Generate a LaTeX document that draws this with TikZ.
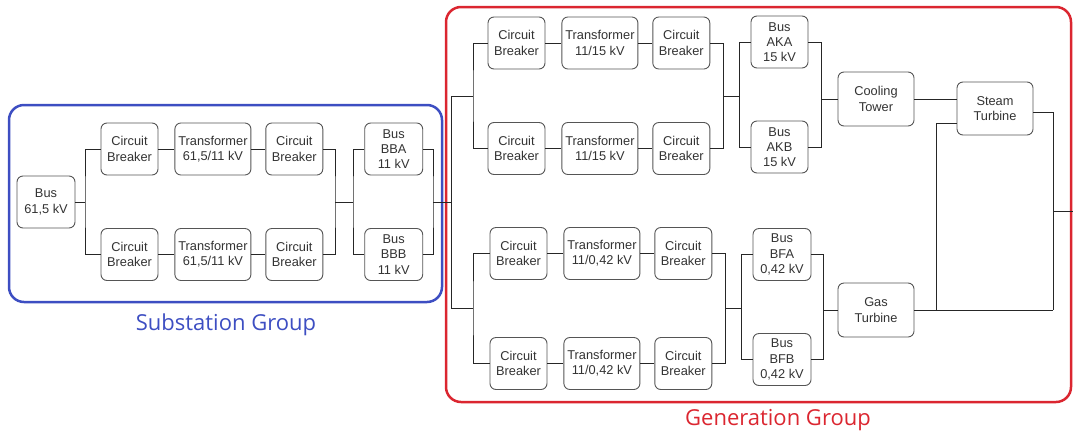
\documentclass[tikz,border=0pt]{standalone}
\usepackage{fontspec}
\setmainfont{Liberation Sans}
\newfontfamily\groupfont{Open Sans}
\usetikzlibrary{positioning, calc}
\definecolor{subblue}{HTML}{3D4EC2}
\definecolor{genred}{HTML}{DB2630}
\definecolor{boxgray}{HTML}{555555}
\definecolor{txtgray}{HTML}{333333}

\begin{document}
\begin{tikzpicture}[x=1pt, y=-1pt,
    box/.style={draw=boxgray, rounded corners=6pt, fill=white, line width=0.9pt,
                minimum height=52pt, inner sep=1pt, align=center,
                font=\fontsize{12.8}{15.3}\selectfont, text=txtgray},
    cb/.style={box, minimum width=57pt},
    tr/.style={box, minimum width=76pt},
    bus/.style={box, minimum width=58pt},
    unit/.style={box, minimum width=76pt, minimum height=54pt},
    wire/.style={draw=black!85, line width=0.8pt},
    group/.style={rounded corners=15pt, line width=2.5pt},
    grplabel/.style={font=\groupfont\fontsize{22}{26}\selectfont}
  ]
  \useasboundingbox (0,0) rectangle (1073,437);

  % group frames
  \draw[group, subblue] (9,105) rectangle (442,302);
  \draw[group, genred] (446,7) rectangle (1071,402);
  \node[grplabel, text=subblue] (sublabel) at (226,325) {Substation Group};
  \node[grplabel, text=genred] (genlabel) at (778,420) {Generation Group};

  % substation
  \node[bus] (bus615) at (46,202) {Bus\\61,5 kV};
  \node[cb] (cbA1) at (129.5,149) {Circuit\\Breaker};
  \node[tr, right=16pt of cbA1] (trA)  {Transformer\\61,5/11 kV};
  \node[cb, right=14pt of trA]  (cbA2) {Circuit\\Breaker};
  \node[bus, right=41pt of cbA2] (bba) {Bus\\BBA\\11 kV};
  \node[cb] (cbB1) at (129.5,254.5) {Circuit\\Breaker};
  \node[tr, right=16pt of cbB1] (trB)  {Transformer\\61,5/11 kV};
  \node[cb, right=14pt of trB]  (cbB2) {Circuit\\Breaker};
  \node[bus, right=41pt of cbB2] (bbb) {Bus\\BBB\\11 kV};

  % generation, 15 kV side
  \node[cb] (cbC1) at (516.5,43) {Circuit\\Breaker};
  \node[tr, right=16pt of cbC1] (trC)  {Transformer\\11/15 kV};
  \node[cb, right=14pt of trC]  (cbC2) {Circuit\\Breaker};
  \node[cb] (cbD1) at (516.5,148.5) {Circuit\\Breaker};
  \node[tr, right=16pt of cbD1] (trD)  {Transformer\\11/15 kV};
  \node[cb, right=14pt of trD]  (cbD2) {Circuit\\Breaker};
  \node[cb] (aka) at (779.5,42)  {Bus\\AKA\\15 kV};
  \node[cb] (akb) at (779.5,147) {Bus\\AKB\\15 kV};
  \node[unit] (cooling) at (876,99) {Cooling\\Tower};
  \node[unit, minimum height=53pt] (steam) at (995,108.5) {Steam\\Turbine};

  % generation, 0,42 kV side
  \node[cb] (cbE1) at (518.5,253.5) {Circuit\\Breaker};
  \node[tr, right=16pt of cbE1] (trE)  {Transformer\\11/0,42 kV};
  \node[cb, right=14pt of trE]  (cbE2) {Circuit\\Breaker};
  \node[cb] (cbF1) at (518.5,363.5) {Circuit\\Breaker};
  \node[tr, right=16pt of cbF1] (trF)  {Transformer\\11/0,42 kV};
  \node[cb, right=14pt of trF]  (cbF2) {Circuit\\Breaker};
  \node[bus] (bfa) at (782,254.5) {Bus\\BFA\\0,42 kV};
  \node[bus] (bfb) at (782,359.5) {Bus\\BFB\\0,42 kV};
  \node[unit] (gas) at (876,310) {Gas\\Turbine};

  % junctions
  \coordinate (j1) at (85,202);
  \coordinate (j2) at (335,202);
  \coordinate (j3) at (353,202);
  \coordinate (j4) at (433,202);
  \coordinate (j5) at (451,202);
  \coordinate (gtop) at (451,96);
  \coordinate (gbot) at (451,308);
  \coordinate (j6) at (473,96);
  \coordinate (j7) at (473,308);
  \coordinate (j8) at (723,96);
  \coordinate (j9) at (739,96);
  \coordinate (j10) at (821,99);
  \coordinate (j14) at (725,308);
  \coordinate (j15) at (741,308);
  \coordinate (j16) at (823,310);
  \coordinate (j11) at (936,310);
  \coordinate (j12) at (1053,310);
  \coordinate (j13) at (1053,211);
  \coordinate (out) at (1073,211);

  % substation wiring
  \draw[wire] (bus615.east) -- (j1);
  \draw[wire] (cbA1.west) -| (j1) |- (cbB1.west);
  \draw[wire] (cbA1) -- (trA) -- (cbA2);
  \draw[wire] (cbB1) -- (trB) -- (cbB2);
  \draw[wire] (cbA2.east) -| (j2) |- (cbB2.east);
  \draw[wire] (j2) -- (j3);
  \draw[wire] (bba.west) -| (j3) |- (bbb.west);
  \draw[wire] (bba.east) -| (j4) |- (bbb.east);
  \draw[wire] (j4) -- (j5);

  % generation wiring
  \draw[wire] (gtop) -- (gbot);
  \draw[wire] (gtop) -- (j6);
  \draw[wire] (gbot) -- (j7);
  \draw[wire] (cbC1.west) -| (j6) |- (cbD1.west);
  \draw[wire] (cbE1.west) -| (j7) |- (cbF1.west);
  \draw[wire] (cbC1) -- (trC) -- (cbC2);
  \draw[wire] (cbD1) -- (trD) -- (cbD2);
  \draw[wire] (cbE1) -- (trE) -- (cbE2);
  \draw[wire] (cbF1) -- (trF) -- (cbF2);
  \draw[wire] (cbC2.east) -| (j8) |- (cbD2.east);
  \draw[wire] (j8) -- (j9);
  \draw[wire] (aka.west) -| (j9) |- (akb.west);
  \draw[wire] (aka.east) -| (j10) |- (akb.east);
  \draw[wire] (j10) -- (cooling.west);
  \draw[wire] (cbE2.east) -| (j14) |- (cbF2.east);
  \draw[wire] (j14) -- (j15);
  \draw[wire] (bfa.west) -| (j15) |- (bfb.west);
  \draw[wire] (bfa.east) -| (j16) |- (bfb.east);
  \draw[wire] (j16) -- (gas.west);
  \draw[wire] (cooling.east) -- (cooling.east -| steam.west);
  \draw[wire] ([yshift=-14.5pt]steam.west) -| (j11);
  \draw[wire] ([yshift=-3.5pt]steam.east) -| (j12);
  \draw[wire] (gas.east) -- (j12);
  \draw[wire] (j13) -- (out);
\end{tikzpicture}
\end{document}
